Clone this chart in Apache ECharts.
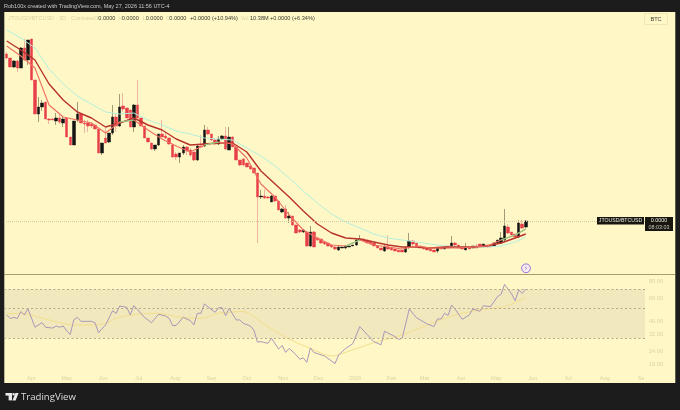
<!DOCTYPE html>
<html>
<head>
<meta charset="utf-8">
<style>html,body{margin:0;padding:0;background:#1c1c1c}#c{width:680px;height:410px}</style>
<script src="https://cdn.jsdelivr.net/npm/echarts@6/dist/echarts.min.js"></script>
</head>
<body>
<div id="c"></div>
<script>
// OHLC values, three-day candles (arbitrary price units)
const firstCandle = Date.UTC(2025, 2, 11);
const DAY = 86400000;
const opens = [220,216,207,213,206,226,214,235,194,160,167,172,155,155,153,156,151,156,137,129,154,160,151,151,150,149,145,121,136,132,141,157,148,168,166,164,147,169,156,148,136,131,125,129,140,138,136,129,120,117,121,127,124,122,114,128,128,144,140,134,130,135,138,124,137,127,114,115,111,108,106,101,77,78,77,72,78,73,62,65,56,58,49,44,42,42,28,42,36,35,32,31,29,27,24,26,26,27,28,29,34,35,34,33,31,28,26,23,27,26,25,24,24,22,27,33,31,28,27,26,25,24,23,26,25,28,27,31,29,26,24,26,26,28,30,27,29,28,28,31,31,34,47,42,40,37,50,47];
const closes = [216,207,213,206,226,214,234,194,160,167,171,155,154,154,156,152,155,137,129,153,160,151,150,148,148,145,121,131,131,141,157,148,167,165,156,147,169,156,148,136,132,125,129,140,137,136,130,117,117,121,127,123,119,114,128,127,144,140,134,130,135,138,125,137,127,114,109,109,107,105,101,77,78,76,76,78,73,64,65,56,58,49,41,42,44,28,42,27,34,31,30,28,27,25,27,27,28,28,29,34,35,33,31,30,28,26,24,27,25,24,23,22,22,26,33,30,27,26,25,24,23,22,26,25,27,26,31,29,26,25,26,25,28,26,27,30,27,27,31,34,36,48,41,39,37,51,46,53];
const lows = [215,207,206,202,206,213,209,194,160,152,163,155,150,154,149,150,147,137,129,129,152,151,141,142,146,145,121,119,131,131,139,142,147,162,156,147,142,156,148,136,132,124,123,128,137,135,129,116,114,111,119,119,117,113,113,126,127,139,133,129,129,134,124,124,127,114,108,108,107,104,101,31,75,75,75,72,72,64,61,55,51,48,41,41,41,27,27,27,33,30,29,28,26,24,23,26,25,27,28,28,33,32,31,30,28,26,24,22,24,24,23,22,22,21,25,28,27,26,25,24,23,22,21,25,25,26,26,27,26,25,24,25,26,26,27,27,27,27,28,31,31,33,40,39,37,36,45,46];
const highs = [222,216,214,214,227,235,234,235,194,177,174,172,156,156,161,161,157,156,137,153,172,160,154,154,152,149,145,131,146,141,169,161,180,181,166,164,170,194,156,148,136,131,129,140,154,141,136,129,122,121,129,128,126,122,129,139,149,147,140,136,138,139,147,147,138,127,114,116,111,109,106,101,84,85,78,79,78,73,66,69,62,58,49,45,45,43,48,43,36,35,33,31,29,28,28,27,28,28,29,35,39,36,34,33,31,28,26,29,39,26,25,24,24,28,41,34,31,28,27,26,25,24,26,26,27,28,38,32,29,26,31,26,28,30,30,30,29,28,31,34,42,65,50,42,40,54,54,54];

// Moving averages: values read every four candles
const emaIndex = [0,4,8,12,16,20,24,28,32,36,40,44,48,52,56,60,64,68,72,76,80,84,88,92,96,100,104,108,112,116,120,124,128,132,136,140,144,147];
const fastEma = [228,218,206,169,157,154,151,141,152,154,144,135,128,122,129,132,130,116,90,77,59,44,36,29,28,34,29,27,25,28,26,26,26,27,28,34,39,45];
const midEma = [233,224,214,190,174,162,156,147,151,156,149,144,135,129,130,131,131,122,103,90,77,63,50,41,36,35,32,29,27,27,26,27,27,27,28,31,36,40];
const slowEma = [244,236,226,205,190,178,170,162,160,161,154,149,143,140,136,135,134,126,118,108,96,83,71,60,52,46,40,36,34,32,30,28,27,27,27,28,32,37];
const fastAboveSpans = [[32,36],[56,60],[96,100],[140,147]];

// RSI panel
const rsiIndex = [0,1,2,3,4,5,6,8,10,11,13,14,15,16,17,18,19,20,21,24,25,26,28,30,31,32,34,35,36,37,39,41,43,45,46,47,48,50,52,53,54,55,56,59,60,61,62,63,65,66,67,69,70,71,72,74,75,77,78,79,80,82,83,84,85,86,87,90,93,94,96,98,100,104,106,107,110,111,112,114,116,119,121,122,123,124,125,126,127,129,131,132,134,135,137,139,140,141,143,144,145,146,147];
const rsiValues = [44.9,42.2,43.1,42.2,47.6,44.9,50.1,36.3,39.3,36.3,35.8,37.1,36.3,37.1,34.1,32.1,41.2,43.1,40.2,40.2,39.3,33.1,37.8,48.3,46.2,52.4,51.2,44.9,52.7,49.5,43.1,39.3,45.4,44.1,42.4,37.3,37.5,43.1,40.7,37.8,46.2,46.2,54.3,47.0,50.9,50.9,44.3,50.3,41.2,41.2,38.9,37.1,34.6,28.1,28.3,27.5,30.0,24.9,26.5,23.5,25.2,22.5,20.9,21.4,19.8,25.4,23.5,22.1,19.4,22.5,25.2,27.3,36.7,28.3,26.8,33.9,30.9,29.4,30.0,49.8,42.9,38.5,36.7,41.9,41.9,46.2,44.6,53.3,49.5,41.6,44.9,49.8,47.8,52.7,51.8,61.6,64.1,76.2,64.5,57.5,69.1,65.2,70.2];
const rsiMaIndex = [0,4,8,12,19,24,28,32,38,43,49,55,60,67,70,74,80,86,92,98,104,112,118,127,135,141,147];
const rsiMaValues = [45.7,46.2,44.1,41.2,37.8,37.8,38.9,43.1,45.7,46.2,43.1,42.4,46.2,47.6,43.6,36.7,29.6,25.2,22.1,24.6,27.8,31.8,36.7,44.9,49.5,51.8,60.8];
const rsiBands = [70, 50, 30];
const rsiTicks = [80, 60, 40, 32, 24, 19];

// Axis ticks
const tickDates = ['2025-04-01','2025-05-01','2025-06-01','2025-07-01','2025-08-01','2025-09-01','2025-10-01','2025-11-01','2025-12-01','2026-01-01','2026-02-01','2026-03-01','2026-04-01','2026-05-01','2026-06-01','2026-07-01','2026-08-01','2026-09-01'];
const tickLabels = ['Apr','May','Jun','Jul','Aug','Sep','Oct','Nov','Dec','2026','Feb','Mar','Apr','May','Jun','Jul','Aug','Se'];

const dateOf = i => firstCandle + i * 3 * DAY;
const tickTimes = tickDates.map(d => Date.parse(d + 'T00:00:00Z'));
const xMin = firstCandle - 2.3 * DAY;
const xMax = xMin + 641 / 1.177 * DAY;

const wicks = opens.map((o, i) => [dateOf(i), o, closes[i], lows[i], highs[i]]);
const bodies = opens.map((o, i) => [dateOf(i), o, closes[i], Math.min(o, closes[i]), Math.max(o, closes[i])]);
const line = (idx, vals) => idx.map((k, i) => [dateOf(k), vals[i]]);
const fastUp = emaIndex.map((k, i) => [dateOf(k), fastAboveSpans.some(s => k >= s[0] && k <= s[1]) ? fastEma[i] : null]);

const UI = '"Liberation Sans", Arial, sans-serif';
const pale = '#d9d2a6', ink = '#3a3a32';
const rect = (x, y, w, h, fill, z) => ({ type: 'rect', z: z || 50, silent: true, shape: { x, y, width: w, height: h }, style: { fill } });
const text = (x, y, t, size, fill, extra) => ({ type: 'text', z: 60, silent: true, x, y, style: Object.assign({ text: t, fontSize: size, fill, fontFamily: UI, verticalAlign: 'middle' }, extra || {}) });

const chart = echarts.init(document.getElementById('c'), null, { renderer: 'canvas' });
chart.setOption({
  animation: false,
  backgroundColor: '#1c1c1c',
  grid: [
    { left: 4, top: 12, width: 641, height: 262 },
    { left: 4, top: 274.5, width: 641, height: 108.5 }
  ],
  xAxis: [
    { type: 'value', gridIndex: 0, min: xMin, max: xMax, show: false, splitLine: { show: false } },
    {
      type: 'value', gridIndex: 1, min: xMin, max: xMax,
      axisLine: { show: false }, axisTick: { show: false }, splitLine: { show: false },
      axisLabel: {
        show: true, inside: true, margin: 2, hideOverlap: false, showMinLabel: true, showMaxLabel: true,
        customValues: tickTimes, color: pale, fontSize: 5.6, fontFamily: UI,
        formatter: v => tickLabels[tickTimes.indexOf(v)] || ''
      }
    }
  ],
  yAxis: [
    { type: 'value', gridIndex: 0, min: 0, max: 262, show: false, splitLine: { show: false } },
    {
      type: 'log', gridIndex: 1, min: 13.86, max: 90.3, position: 'right',
      axisLine: { show: false }, axisTick: { show: false }, splitLine: { show: false },
      axisLabel: {
        show: true, margin: 4, customValues: rsiTicks, color: pale, fontSize: 5.6, fontFamily: UI,
        formatter: v => Number(v).toFixed(2)
      }
    }
  ],
  series: [
    {
      name: 'Wicks', type: 'candlestick', xAxisIndex: 0, yAxisIndex: 0, barWidth: 1, data: wicks, silent: true,
      itemStyle: { color: '#a59a78', color0: '#edb4a4', borderColor: '#a59a78', borderColor0: '#edb4a4', borderWidth: 1 },
      markLine: {
        silent: true, symbol: 'none', label: { show: false },
        lineStyle: { color: '#d4cba6', type: 'dotted', width: 1 },
        data: [{ yAxis: closes[closes.length - 1] }]
      }
    },
    {
      name: 'Bodies', type: 'candlestick', xAxisIndex: 0, yAxisIndex: 0, barWidth: 3, data: bodies, silent: true,
      itemStyle: { color: '#141414', color0: '#e8404a', borderColor: '#141414', borderColor0: '#e8404a', borderWidth: 0.5 }
    },
    { name: 'Slow', type: 'line', xAxisIndex: 0, yAxisIndex: 0, data: line(emaIndex, slowEma), showSymbol: false, silent: true, lineStyle: { color: '#b4efdc', width: 1 } },
    { name: 'Mid', type: 'line', xAxisIndex: 0, yAxisIndex: 0, data: line(emaIndex, midEma), showSymbol: false, silent: true, lineStyle: { color: '#b8332b', width: 1.4 } },
    { name: 'Fast', type: 'line', xAxisIndex: 0, yAxisIndex: 0, data: line(emaIndex, fastEma), showSymbol: false, silent: true, lineStyle: { color: '#ee6f60', width: 1.1 } },
    { name: 'FastUp', type: 'line', xAxisIndex: 0, yAxisIndex: 0, data: fastUp, showSymbol: false, silent: true, connectNulls: false, lineStyle: { color: '#86d686', width: 1.1 } },
    {
      name: 'RSI MA', type: 'line', xAxisIndex: 1, yAxisIndex: 1, data: line(rsiMaIndex, rsiMaValues), showSymbol: false, silent: true, smooth: 0.3,
      lineStyle: { color: '#f2de8c', width: 1 }
    },
    {
      name: 'RSI', type: 'line', xAxisIndex: 1, yAxisIndex: 1, data: line(rsiIndex, rsiValues), showSymbol: false, silent: true, z: 4,
      lineStyle: { color: '#a898b8', width: 1 },
      markArea: {
        silent: true, itemStyle: { color: 'rgba(150,120,130,0.12)' },
        data: [[{ yAxis: rsiBands[2], xAxis: xMin }, { yAxis: rsiBands[0], xAxis: xMax }]]
      },
      markLine: {
        silent: true, symbol: 'none', label: { show: false },
        lineStyle: { color: '#b4a88c', type: [2, 2.5], width: 1 },
        data: rsiBands.map(v => ({ yAxis: v }))
      }
    }
  ],
  graphic: { elements: [
    rect(4.3, 12, 671, 371, '#fff8c6', -10),
    { type: 'line', z: 40, silent: true, shape: { x1: 4, y1: 274.5, x2: 675, y2: 274.5 }, style: { stroke: '#a89f70', lineWidth: 1 } },
    text(4, 6.5, 'Rob100x created with TradingView.com, May 27, 2026 11:56 UTC-4', 5.5, '#c9c9c9'),
    text(8, 18.5, 'JTOUSD/BTCUSD · 3D · Coinbase', 5.5, pale),
    text(94, 18.5, 'O', 5.6, pale), text(98.3, 18.5, '0.0000', 5.6, ink),
    text(118.3, 18.5, 'H', 5.6, pale), text(121.7, 18.5, '0.0000', 5.6, ink),
    text(142.7, 18.5, 'L', 5.6, pale), text(145.7, 18.5, '0.0000', 5.6, ink),
    text(165.7, 18.5, 'C', 5.6, pale), text(169.3, 18.5, '0.0000', 5.6, ink),
    text(190, 18.5, '+0.0000 (+10.94%)', 5.6, ink),
    text(240.7, 18.5, 'Vol', 5.6, pale), text(250, 18.5, '10.38M', 5.6, ink),
    text(270, 18.5, '+0.0000 (+6.34%)', 5.6, ink),
    { type: 'rect', z: 50, silent: true, shape: { x: 644.5, y: 13.5, width: 23, height: 11 }, style: { fill: '#fff8c6', stroke: '#f0e8b4', lineWidth: 1 } },
    text(656, 19, 'BTC', 5.6, ink, { align: 'center' }),
    rect(597, 217, 47, 7.5, '#17170f'),
    text(620.5, 220.8, 'JTOUSD/BTCUSD', 5.2, '#e8e8e0', { align: 'center' }),
    rect(645, 217, 28, 14, '#17170f'),
    text(659, 220.8, '0.0000', 5.4, '#f0f0e8', { align: 'center' }),
    text(659, 227.5, '08:03:03', 5.4, '#c8c8c0', { align: 'center' }),
    { type: 'circle', z: 60, silent: true, shape: { cx: 526, cy: 268.3, r: 4.4 }, style: { fill: '#f5ecf0', stroke: '#a06fd8', lineWidth: 1 } },
    text(526, 268.5, '⚡', 5.5, '#8a55c8', { align: 'center', fontFamily: 'DejaVu Sans' }),
    rect(5.5, 393, 6.5, 2.6, '#e8e8e8'),
    rect(8.6, 393, 3.4, 7.4, '#e8e8e8'),
    { type: 'circle', z: 60, silent: true, shape: { cx: 13.6, cy: 394.3, r: 1.3 }, style: { fill: '#e8e8e8' } },
    { type: 'polygon', z: 60, silent: true, shape: { points: [[15.5, 393], [18.6, 393], [15.6, 400.4], [12.4, 400.4]] }, style: { fill: '#e8e8e8' } },
    text(21, 396.8, 'TradingView', 9.6, '#dcdcdc', { fontFamily: '"Open Sans", sans-serif', fontWeight: 500 })
  ] }
});
</script>
</body>
</html>
